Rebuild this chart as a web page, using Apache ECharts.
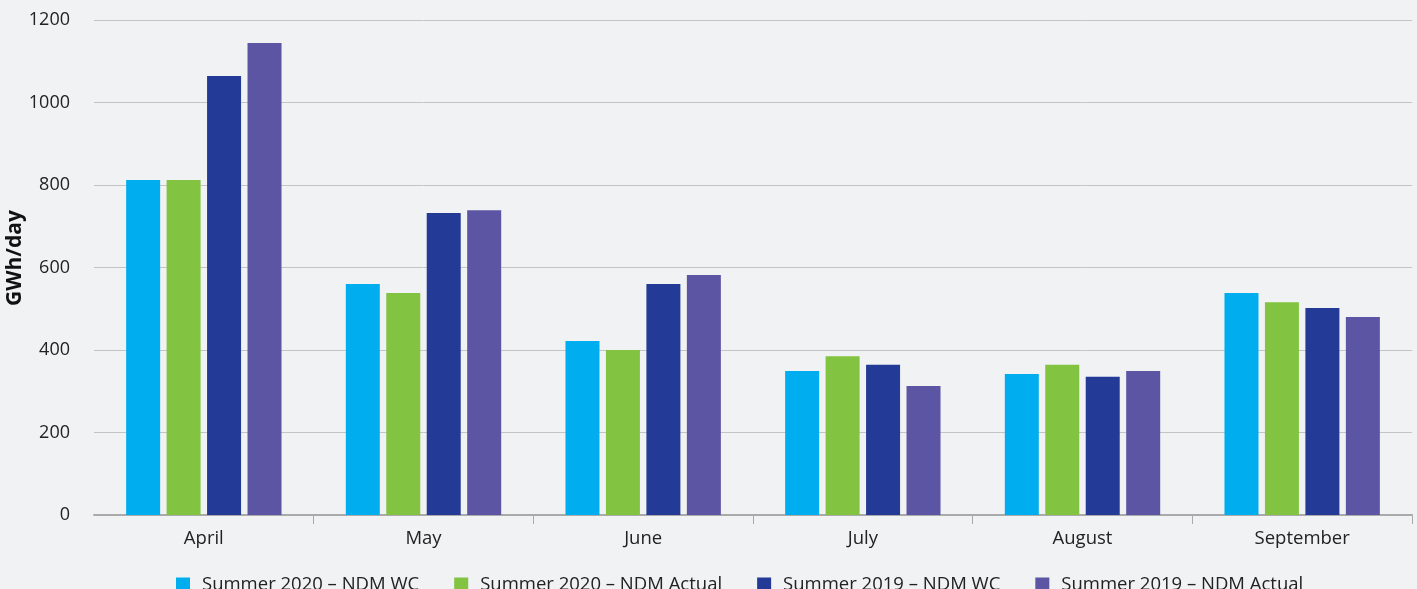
<!DOCTYPE html>
<html>
<head>
<meta charset="utf-8">
<script src="https://cdn.jsdelivr.net/npm/echarts@6/dist/echarts.min.js"></script>
<style>
  html, body { margin: 0; padding: 0; background: #f1f2f4; }
  #chart { width: 1417px; height: 589px; }
</style>
</head>
<body>
<div id="chart"></div>
<script>
const months = ['April', 'May', 'June', 'July', 'August', 'September']
const seriesNames = [
  'Summer 2020 – NDM WC',
  'Summer 2020 – NDM Actual',
  'Summer 2019 – NDM WC',
  'Summer 2019 – NDM Actual'
]
const wc2020 = [812, 560, 422, 349, 342, 538]
const actual2020 = [812, 538, 400, 385, 364, 516]
const wc2019 = [1064, 732, 560, 364, 335, 502]
const actual2019 = [1144, 739, 582, 313, 349, 480]
const colors = ['#00aeef', '#82c341', '#233a96', '#5b55a3']

const font = "'Open Sans', 'Noto Sans', sans-serif"
const chart = echarts.init(document.getElementById('chart'))

const values = [wc2020, actual2020, wc2019, actual2019]
const series = seriesNames.map((name, i) => ({
  name: name,
  type: 'bar',
  data: values[i],
  barWidth: 34,
  barGap: '19%',
  itemStyle: { color: colors[i] }
}))

chart.setOption({
  backgroundColor: '#f1f2f4',
  animation: false,
  textStyle: { fontFamily: font },
  grid: {
    left: 94,
    right: 5,
    top: 20,
    bottom: 74,
    containLabel: false,
    outerBoundsMode: 'none'
  },
  legend: {
    left: 171,
    top: 570,
    itemWidth: 14,
    itemHeight: 14,
    itemGap: 35,
    icon: 'rect',
    textStyle: { fontSize: 18.5, color: '#222', fontFamily: font, padding: [0, 0, 0, 7] },
    data: seriesNames
  },
  xAxis: {
    type: 'category',
    data: months,
    axisLine: { lineStyle: { color: '#aaaaaa', width: 2 } },
    axisTick: {
      show: true,
      length: 9,
      interval: (i) => i > 0,
      lineStyle: { color: '#aaaaaa' }
    },
    axisLabel: { fontSize: 18.5, color: '#222', margin: 14, fontFamily: font }
  },
  yAxis: {
    type: 'value',
    min: 0,
    max: 1200,
    interval: 200,
    name: 'GWh/day',
    nameLocation: 'middle',
    nameGap: 68,
    nameMoveOverlap: false,
    nameTextStyle: {
      fontSize: 21,
      fontWeight: 'bold',
      color: '#111',
      fontFamily: font,
      padding: [0, 0, 0, 19]
    },
    axisLine: { show: false },
    axisTick: { show: false },
    axisLabel: { fontSize: 18, color: '#222', margin: 24, fontFamily: font, formatter: v => String(v) },
    splitLine: { lineStyle: { color: '#c4c4c6', width: 1 } }
  },
  series: series
})
</script>
</body>
</html>
